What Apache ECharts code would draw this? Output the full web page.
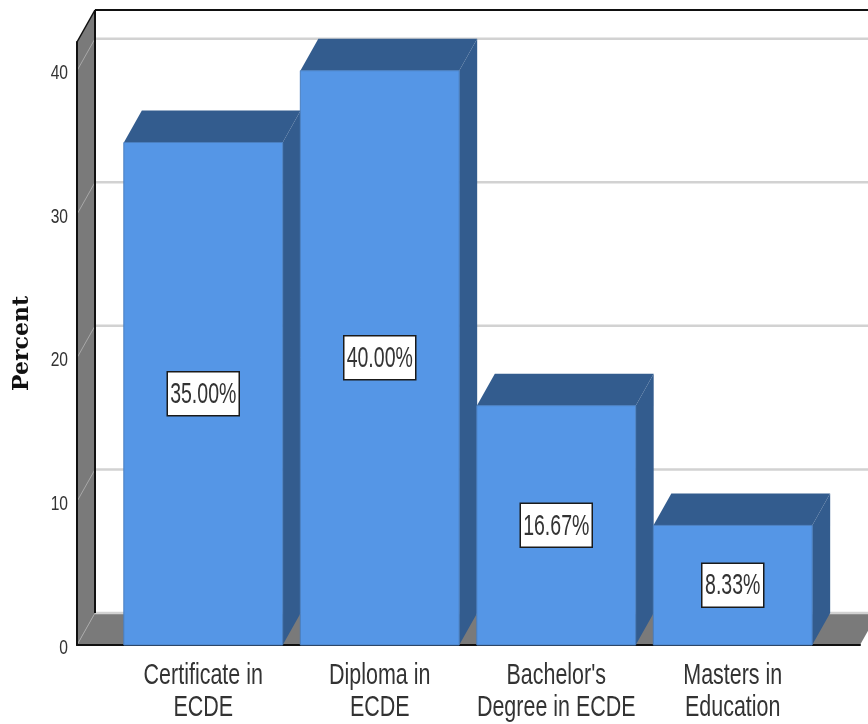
<!DOCTYPE html>
<html>
<head>
<meta charset="utf-8">
<style>html,body{margin:0;padding:0;background:#fff}#chart{width:868px;height:724px}</style>
<script src="https://cdn.jsdelivr.net/npm/echarts@6/dist/echarts.min.js"></script>
</head>
<body>
<div id="chart"></div>
<script>
// Education level of respondents, in percent
const categories = ['Certificate in\nECDE', 'Diploma in\nECDE', "Bachelor's\nDegree in ECDE", 'Masters in\nEducation'];
const percents = [35.00, 40.00, 16.67, 8.33];
const yTicks = [0, 10, 20, 30, 40];
const yMax = 42;

// Oblique offset of the back plane, and the shared palette
const DEPTH_X = 18, DEPTH_Y = -32;
const FRONT = '#5596e6', SHADE = '#335c8e', WALL = '#7a7a7a', RULE = '#d2d2d2', INK = '#333333';
const SANS = '"Liberation Sans",sans-serif';

function back(p) { return [p[0] + DEPTH_X, p[1] + DEPTH_Y]; }

// Horizontally condensed text, used for every tick and value label
function narrowText(text, x, y, size, squeeze, align, lineHeight) {
  return {
    type: 'text', x, y, scaleX: squeeze,
    style: { text, x: 0, y: 0, align, verticalAlign: 'middle', fill: INK,
             font: size + 'px ' + SANS, lineHeight }
  };
}

function renderRoom(params, api) {
  const fl = api.coord([0, 0]), fr = api.coord([1, 0]);
  const tl = api.coord([0, yMax]), tr = api.coord([1, yMax]);
  const poly = (points, fill) => ({ type: 'polygon', shape: { points }, style: { fill } });
  const line = (a, b, stroke, lineWidth) => ({
    type: 'line', shape: { x1: a[0], y1: a[1], x2: b[0], y2: b[1] }, style: { stroke, lineWidth }
  });
  const rules = [];
  yTicks.forEach(t => {
    const p = api.coord([0, t]), q = api.coord([1, t]);
    rules.push(line(back(p), back(q), RULE, 2.5));
    rules.push(line(p, back(p), '#a8a8a8', 1));
  });
  return {
    type: 'group',
    children: [
      poly([fl, back(fl), back(tl), tl], WALL),
      poly([fl, fr, back(fr), back(fl)], WALL),
      ...rules,
      line(back(fl), back(tl), '#111', 2),
      line(tl, back(tl), '#111', 1.5),
      line(back(tl), back(tr), '#111', 2)
    ]
  };
}

function renderBar(params, api) {
  const idx = api.value(0), val = api.value(1);
  const band = api.size([1, 0])[0], w = band * 0.9;
  const c = api.coord([idx, val]), base = api.coord([idx, 0]), mid = api.coord([idx, val / 2]);
  const x0 = c[0] - w / 2, x1 = c[0] + w / 2, top = c[1], bot = base[1];
  const TL = [x0, top], TR = [x1, top], BR = [x1, bot];
  const text = val.toFixed(2) + '%';
  const boxW = text.length * 10 + 12, boxH = 44;
  return {
    type: 'group',
    children: [
      { type: 'polygon', shape: { points: [TR, back(TR), back(BR), BR] }, style: { fill: SHADE } },
      { type: 'polygon', shape: { points: [TL, TR, back(TR), back(TL)] }, style: { fill: SHADE } },
      { type: 'rect', shape: { x: x0, y: top, width: w, height: bot - top },
        style: { fill: FRONT, stroke: '#4a7fc0', lineWidth: 1 } },
      { type: 'rect', shape: { x: c[0] - boxW / 2, y: mid[1] - boxH / 2, width: boxW, height: boxH },
        style: { fill: '#fff', stroke: '#1a1a1a', lineWidth: 1.5 } },
      narrowText(text, c[0], mid[1] + 1, 30, 0.65, 'center')
    ]
  };
}

function renderCategoryLabel(params, api) {
  const p = api.coord([api.value(0), 0]);
  return narrowText(categories[params.dataIndex], p[0], p[1] + 47, 29, 0.74, 'center', 32);
}

function renderValueLabel(params, api) {
  const p = api.coord([0, api.value(1)]);
  return narrowText(String(api.value(1)), p[0] - 9, p[1] + 3, 20, 0.78, 'right');
}

const chart = echarts.init(document.getElementById('chart'), null, { renderer: 'canvas' });
chart.setOption({
  animation: false,
  backgroundColor: '#fff',
  grid: [
    { left: 77, top: 42, width: 783, height: 603, outerBoundsMode: 'none' },
    { left: 115, top: 42, width: 706, height: 603, outerBoundsMode: 'none' }
  ],
  xAxis: [
    { gridIndex: 0, type: 'value', min: 0, max: 1, z: 1.5,
      axisLine: { show: true, onZero: false, lineStyle: { color: '#111', width: 2 } },
      axisTick: { show: false }, axisLabel: { show: false }, splitLine: { show: false } },
    { gridIndex: 1, type: 'category', data: categories,
      axisLine: { show: false }, axisTick: { show: false }, axisLabel: { show: false } }
  ],
  yAxis: [
    { gridIndex: 0, type: 'value', min: 0, max: yMax, interval: 10, z: 3,
      name: 'Percent', nameLocation: 'middle', nameGap: 44,
      nameTextStyle: { fontFamily: '"DejaVu Serif"', fontWeight: 'bold', fontSize: 22, color: '#111' },
      axisLine: { show: true, lineStyle: { color: '#111', width: 2 } },
      axisTick: { show: false }, splitLine: { show: false }, axisLabel: { show: false } },
    { gridIndex: 1, type: 'value', min: 0, max: yMax, show: false, splitLine: { show: false } }
  ],
  series: [
    { type: 'custom', name: 'Room', xAxisIndex: 0, yAxisIndex: 0, z: 1, silent: true,
      data: [[0, 0]], renderItem: renderRoom },
    { type: 'custom', name: 'Value labels', xAxisIndex: 0, yAxisIndex: 0, z: 3, silent: true,
      encode: { x: 0, y: 1 },
      data: yTicks.map(t => [0, t]), renderItem: renderValueLabel },
    { type: 'custom', name: 'Percent', xAxisIndex: 1, yAxisIndex: 1, z: 2, silent: true,
      encode: { x: 0, y: 1 },
      data: percents.map((v, i) => [i, v]), renderItem: renderBar },
    { type: 'custom', name: 'Category labels', xAxisIndex: 1, yAxisIndex: 1, z: 3, silent: true,
      encode: { x: 0, y: 1 },
      data: categories.map((c, i) => [i, 0]), renderItem: renderCategoryLabel }
  ]
});
</script>
</body>
</html>
